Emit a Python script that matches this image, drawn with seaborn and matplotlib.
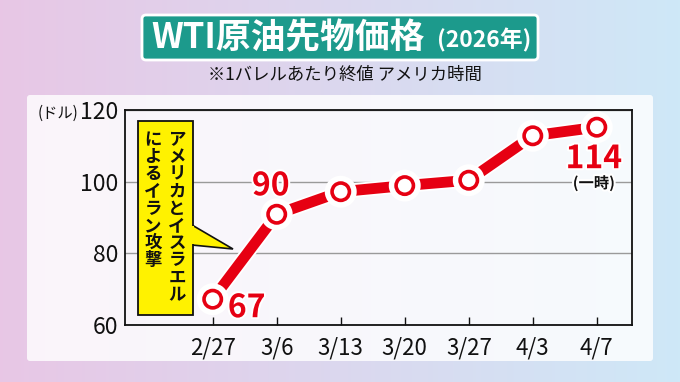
import numpy as np
import pandas as pd
import seaborn as sns
import matplotlib.pyplot as plt
import matplotlib.patheffects as pe
from matplotlib.patches import FancyBboxPatch, Polygon, Rectangle

# データ
dates = ['2/27', '3/6', '3/13', '3/20', '3/27', '4/3', '4/7']
prices = [67.2, 90.9, 97.2, 98.9, 100.4, 112.8, 115.2]
price_labels = ['67', '90', '', '', '', '', '114']
y_ticks = [60, 80, 100, 120]

title = 'WTI原油先物価格'
title_year = '(2026年)'
subtitle = '※1バレルあたり終値 アメリカ時間'
unit = '(ドル)'
note_right = 'アメリカとイスラエル'
note_left = 'によるイラン攻撃'
note_114 = '(一時)'

RED = '#e60012'
TEAL = '#1c9a8c'
YELLOW = '#fff200'

sns.set_theme(style='white')
plt.rcParams['font.family'] = ['Noto Sans CJK JP', 'DejaVu Sans']

W, H = 680, 382
fig = plt.figure(figsize=(W / 100, H / 100), dpi=100)

# 背景グラデーション
bg = fig.add_axes([0, 0, 1, 1], zorder=-10)
t = np.linspace(0, 1, 256)
left_c = np.array([0.91, 0.78, 0.90])
right_c = np.array([0.81, 0.91, 0.97])
grad = left_c[None, :] * (1 - t[:, None]) + right_c[None, :] * t[:, None]
grad = np.repeat(grad[None, :, :], 2, axis=0)
bg.imshow(grad, aspect='auto', extent=[0, W, H, 0])
bg.set_xlim(0, W)
bg.set_ylim(H, 0)
bg.axis('off')
bg.add_patch(FancyBboxPatch((27, 95), 626, 266, boxstyle='round,pad=0,rounding_size=3',
                            facecolor='white', edgecolor='none', alpha=0.82))

# メインのグラフ
ax = fig.add_axes([125 / W, 1 - 325 / H, 507 / W, 215 / H])
ax.set_facecolor('none')
df = pd.DataFrame({'date': dates, 'price': prices})
sns.lineplot(data=df, x='date', y='price', ax=ax, sort=False, color=RED, lw=7.8,
             marker='o', markersize=12.5, markerfacecolor='white',
             markeredgecolor=RED, markeredgewidth=2.6,
             path_effects=[pe.Stroke(linewidth=10.5, foreground='white'), pe.Normal()])

ax.set_xlim(-1.37, 6.55)
ax.set_ylim(60, 120)
ax.set_yticks(y_ticks)
ax.set_xlabel('')
ax.set_ylabel('')
ax.yaxis.grid(True, color='#9a9a9a', lw=1)
ax.xaxis.grid(False)
for s in ax.spines.values():
    s.set_color('#111111')
    s.set_linewidth(1.3)
ax.tick_params(axis='x', direction='in', length=6, width=1, bottom=True,
               colors='#111111', labelsize=16, pad=8)
ax.tick_params(axis='y', length=0, labelsize=16.5, pad=5, colors='#111111')

# 値ラベル
offsets = {0: (34, -9), 1: (-6, 28), 6: (-3, -32)}
for i, lab in enumerate(price_labels):
    if not lab:
        continue
    dx, dy = offsets[i]
    ax.annotate(lab, (i, prices[i]), xytext=(dx, dy), textcoords='offset pixels',
                ha='center', va='center', fontsize=23, fontweight='bold', color=RED,
                path_effects=[pe.withStroke(linewidth=3, foreground='white')], zorder=10)
ax.annotate(note_114, (6, prices[6]), xytext=(-3, -56), textcoords='offset pixels',
            ha='center', va='center', fontsize=11, fontweight='bold', color='#111111',
            path_effects=[pe.withStroke(linewidth=3, foreground='white')], zorder=10)

# 上に重ねる注釈
ov = fig.add_axes([0, 0, 1, 1], zorder=5)
ov.set_xlim(0, W)
ov.set_ylim(H, 0)
ov.axis('off')

ov.add_patch(FancyBboxPatch((142, 15), 396, 45, boxstyle='round,pad=0,rounding_size=4',
                            facecolor=TEAL, edgecolor='white', lw=2))
ov.text(151, 38, title, fontsize=25, fontweight='bold', color='white', ha='left', va='center')
ov.text(531, 40, title_year, fontsize=16.5, fontweight='bold', color='white', ha='right', va='center')
ov.text(345, 75, subtitle, fontsize=12.5, color='#111111', ha='center', va='center')
ov.text(58, 113, unit, fontsize=11, color='#111111', ha='center', va='center')

# 吹き出し
ov.add_patch(Polygon([(192, 225), (233, 249), (192, 245)], closed=True,
                     facecolor=YELLOW, edgecolor='#111111', lw=1.2, zorder=2))
ov.add_patch(Rectangle((138, 121), 55, 194, facecolor=YELLOW, edgecolor='#111111',
                       lw=1.3, zorder=3))
ov.add_patch(Rectangle((192.4, 225.8), 2, 18.5, facecolor=YELLOW, edgecolor='none', zorder=4))
for col_x, txt in [(177, note_right), (153, note_left)]:
    for k, ch in enumerate(txt):
        ov.text(col_x, 140 + k * 17.2, ch, fontsize=12.5, fontweight='bold',
                color='#111111', ha='center', va='center', zorder=5)

fig.savefig('out.png', dpi=100)
